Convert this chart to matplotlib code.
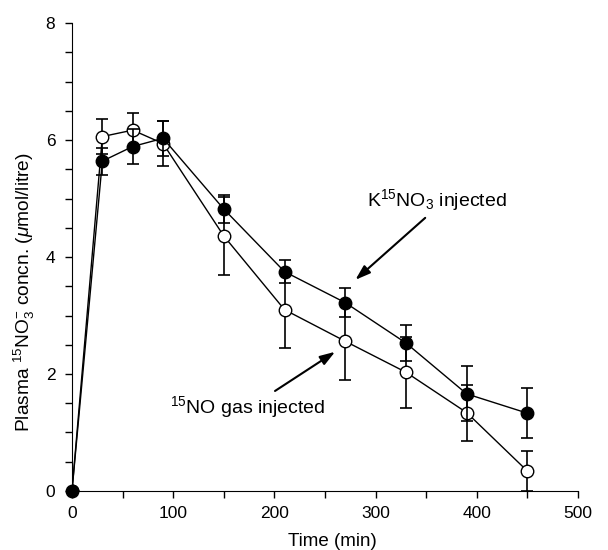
import matplotlib
matplotlib.use("Agg")
import matplotlib.pyplot as plt
from matplotlib.ticker import MultipleLocator

plt.rcParams['font.family'] = ['Liberation Sans', 'DejaVu Sans']
plt.rcParams['mathtext.fontset'] = 'custom'
plt.rcParams['mathtext.rm'] = 'Liberation Sans'
plt.rcParams['mathtext.it'] = 'Liberation Sans:italic'

time = [0, 30, 60, 90, 150, 210, 270, 330, 390, 450]
kno3 = [0, 5.64, 5.89, 6.03, 4.82, 3.75, 3.22, 2.53, 1.66, 1.33]
kno3_err = [0, 0.23, 0.3, 0.3, 0.24, 0.2, 0.25, 0.31, 0.47, 0.43]
no_gas = [0, 6.06, 6.17, 5.94, 4.36, 3.1, 2.56, 2.03, 1.34, 0.34]
no_gas_err = [0, 0.3, 0.29, 0.38, 0.67, 0.65, 0.66, 0.61, 0.48, 0.34]

fig = plt.figure(figsize=(6.08, 5.5), dpi=100)
ax = fig.add_axes([0.1184, 0.1073, 0.8323, 0.8507])

ax.errorbar(time, no_gas, yerr=no_gas_err, fmt='-o', color='black', mfc='white',
            mec='black', ms=9, lw=1, elinewidth=1.2, capsize=4, capthick=1.2,
            zorder=3, clip_on=True)
ax.errorbar(time, kno3, yerr=kno3_err, fmt='-o', color='black', mfc='black',
            mec='black', ms=9, lw=1, elinewidth=1.2, capsize=4, capthick=1.2,
            zorder=4, clip_on=True)
# redraw origin marker unclipped so it shows fully
ax.plot(time[:1], kno3[:1], 'o', color='black', ms=9, clip_on=False, zorder=5)

ax.set_xlim(0, 500)
ax.set_ylim(0, 8)
ax.spines['top'].set_visible(False)
ax.spines['right'].set_visible(False)
ax.xaxis.set_major_locator(MultipleLocator(100))
ax.xaxis.set_minor_locator(MultipleLocator(50))
ax.yaxis.set_major_locator(MultipleLocator(2))
ax.yaxis.set_minor_locator(MultipleLocator(0.5))
ax.tick_params(which='both', direction='out', length=5, width=1, labelsize=12.5)
ax.tick_params(axis='x', pad=6)
ax.tick_params(axis='y', pad=7)

ax.set_xlabel('Time (min)', fontsize=13.5)
ax.xaxis.set_label_coords(0.515, -0.09)
ax.set_ylabel(r'Plasma $^{15}$NO$_3^{-}$ concn. ($\mu$mol/litre)', fontsize=13.8)
ax.yaxis.set_label_coords(-0.069, 0.425)

ax.annotate('', xy=(280, 3.61), xytext=(349, 4.67),
            arrowprops=dict(arrowstyle='-|>,head_length=0.9,head_width=0.3',
                            color='black', lw=1.5, shrinkA=0, shrinkB=0))
ax.text(361, 4.98, r'K$^{15}$NO$_3$ injected', fontsize=14, ha='center', va='center')

ax.annotate('', xy=(260, 2.38), xytext=(200.6, 1.71),
            arrowprops=dict(arrowstyle='-|>,head_length=0.9,head_width=0.3',
                            color='black', lw=1.5, shrinkA=0, shrinkB=0))
ax.text(173.4, 1.44, r'$^{15}$NO gas injected', fontsize=14, ha='center', va='center')

fig.savefig('out.png', dpi=100)
